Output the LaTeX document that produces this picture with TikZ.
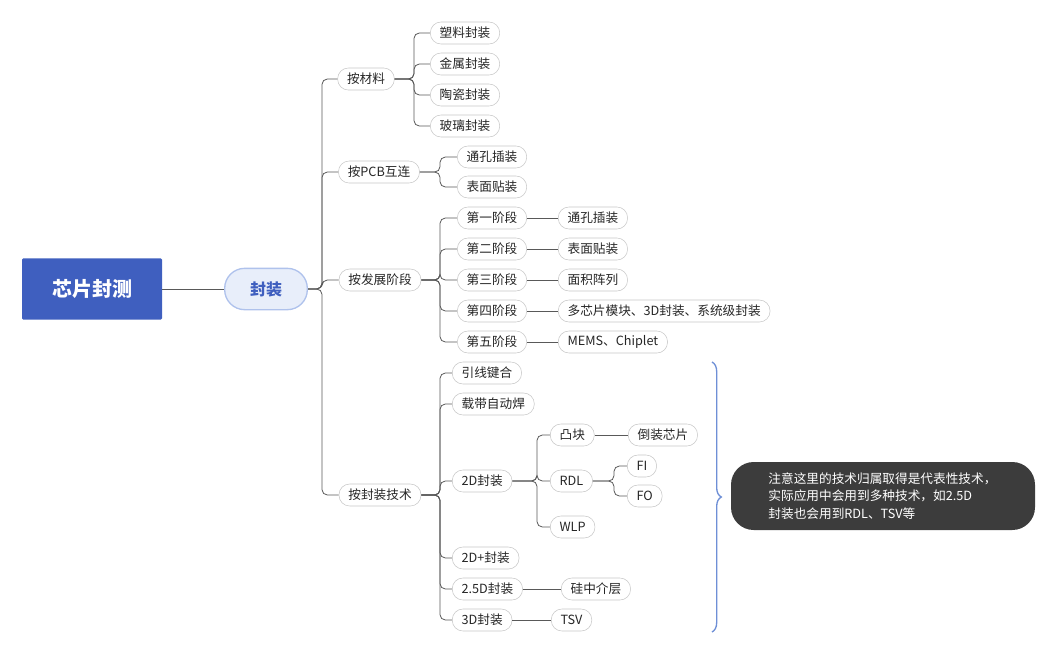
\documentclass[tikz,border=0pt]{standalone}
\usepackage{fontspec}
\setmainfont{Noto Sans CJK SC}
\usetikzlibrary{decorations.pathreplacing}
\definecolor{mainblue}{HTML}{3F5FBF}
\definecolor{lightb}{HTML}{E8EEFA}
\definecolor{lbord}{HTML}{AFC2EC}
\definecolor{bracec}{HTML}{6E8FD6}
\definecolor{note}{HTML}{3C3C3C}
\begin{document}
\begin{tikzpicture}[x=0.75pt,y=-0.75pt,
  pill/.style={draw=black!22,fill=white,rounded corners=8pt,inner xsep=7pt,inner ysep=0pt,minimum height=16.5pt,font=\fontsize{9.5}{11}\selectfont,text=black!85},
  conn/.style={draw=black!65,line width=0.6pt,rounded corners=4pt}]
\useasboundingbox (0,0) rectangle (1056,658);
\node[fill=mainblue,minimum width=105pt,minimum height=46pt,text=white,font=\fontsize{15}{18}\selectfont\bfseries,rounded corners=1pt] (root) at (92,289) {芯片封测};
\node[fill=lightb,draw=lbord,line width=1pt,minimum width=62pt,minimum height=31pt,rounded corners=15pt,text=mainblue,font=\fontsize{12}{14}\selectfont\bfseries] (fz) at (266,289) {封装};
\draw[conn] (root.east) -- (fz.west);
% level1
\node[pill] (a) at (366,79) {按材料};
\node[pill] (b) at (379,172) {按PCB互连};
\node[pill] (c) at (380,280) {按发展阶段};
\node[pill] (d) at (380,495) {按封装技术};
\coordinate (s0) at (322,289);
\foreach \n in {a,b,c,d} \draw[conn] (fz.east) -- (s0) |- (\n.west);
% materials
\coordinate (sa) at (414,79);
\foreach \n/\y/\t in {a1/33/塑料封装,a2/64/金属封装,a3/95/陶瓷封装,a4/126/玻璃封装}{
  \node[pill] (\n) at (465,\y) {\t};
  \draw[conn] (a.east) -- (sa) |- (\n.west);}
% pcb
\coordinate (sb) at (440,172);
\foreach \n/\y/\t in {b1/157/通孔插装,b2/187/表面贴装}{
  \node[pill] (\n) at (492,\y) {\t};
  \draw[conn] (b.east) -- (sb) |- (\n.west);}
% stages
\coordinate (sc) at (440,280);
\foreach \n/\y/\t in {c1/218/第一阶段,c2/249/第二阶段,c3/280/第三阶段,c4/311/第四阶段,c5/342/第五阶段}{
  \node[pill] (\n) at (492,\y) {\t};
  \draw[conn] (c.east) -- (sc) |- (\n.west);}
\node[pill,anchor=west] (c1a) at (558,218) {通孔插装};
\node[pill,anchor=west] (c2a) at (558,249) {表面贴装};
\node[pill,anchor=west] (c3a) at (558,280) {面积阵列};
\node[pill,anchor=west] (c4a) at (558,311) {多芯片模块、3D封装、系统级封装};
\node[pill,anchor=west] (c5a) at (558,342) {MEMS、Chiplet};
\foreach \i in {1,...,5} \draw[conn] (c\i.east) -- (c\i a.west);
% tech
\coordinate (sd) at (440,495);
\node[pill,anchor=west] (d1) at (452,373) {引线键合};
\node[pill,anchor=west] (d2) at (452,404) {载带自动焊};
\node[pill,anchor=west] (d3) at (452,481) {2D封装};
\node[pill,anchor=west] (d4) at (452,558) {2D+封装};
\node[pill,anchor=west] (d5) at (452,589) {2.5D封装};
\node[pill,anchor=west] (d6) at (452,620) {3D封装};
\foreach \i in {1,...,6} \draw[conn] (d.east) -- (sd) |- (d\i.west);
\coordinate (s2d) at (537,481);
\node[pill,anchor=west] (e1) at (550,435) {凸块};
\node[pill,anchor=west] (e2) at (550,481) {RDL};
\node[pill,anchor=west] (e3) at (550,527) {WLP};
\foreach \i in {1,2,3} \draw[conn] (d3.east) -- (s2d) |- (e\i.west);
\node[pill,anchor=west] (e1a) at (628,435) {倒装芯片};
\draw[conn] (e1.east) -- (e1a.west);
\coordinate (srdl) at (614,481);
\node[pill,anchor=west] (f1) at (627,466) {FI};
\node[pill,anchor=west] (f2) at (627,496) {FO};
\foreach \i in {1,2} \draw[conn] (e2.east) -- (srdl) |- (f\i.west);
\node[pill,anchor=west] (d5a) at (561,589) {硅中介层};
\draw[conn] (d5.east) -- (d5a.west);
\node[pill,anchor=west] (d6a) at (551,620) {TSV};
\draw[conn] (d6.east) -- (d6a.west);
% brace
\coordinate (bt) at (712,362);
\coordinate (bb) at (712,632);
\draw[bracec,line width=1pt,decorate,decoration={brace,amplitude=7pt}] (bt) -- (bb);
% note
\node[fill=note,rounded corners=17pt,minimum width=228pt,minimum height=51pt,text=white,align=left,font=\fontsize{9.5}{13}\selectfont,inner xsep=21pt] (nt) at (883,496) {注意这里的技术归属取得是代表性技术，\\实际应用中会用到多种技术，如2.5D\\封装也会用到RDL、TSV等\hspace*{6.5em}};
\end{tikzpicture}
\end{document}
